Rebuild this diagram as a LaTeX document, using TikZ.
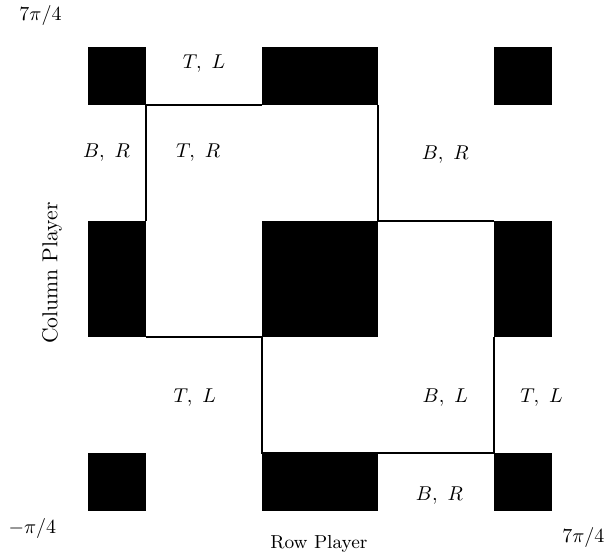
\documentclass[tikz,border=0pt]{standalone}
\usepackage{tikz}
\usetikzlibrary{calc,positioning}
\tikzset{
  blackcell/.style={fill=black, draw=none},
  regionline/.style={draw=black, line width=0.75pt, line join=miter},
  payoff/.style={font=\normalsize, inner sep=1pt},
  axislabel/.style={font=\normalsize, inner sep=1pt}
}

\begin{document}
\begin{tikzpicture}[x=58pt,y=58pt]
    \useasboundingbox (-0.759,-0.379) rectangle (4.474,4.405);
    % black squares of the grid
    \foreach \xa/\xb in {0/0.5, 1.5/2.5, 3.5/4}
      \foreach \ya/\yb in {0/0.5, 1.5/2.5, 3.5/4}
        \path[blackcell] (\xa,\ya) rectangle (\xb,\yb);
    % region boundaries
    \coordinate (p1) at (1.5,3.5);
    \coordinate (p2) at (0.5,3.5);
    \coordinate (p3) at (0.5,2.5);
    \coordinate (q1) at (2.5,3.5);
    \coordinate (q2) at (2.5,2.5);
    \coordinate (q3) at (3.5,2.5);
    \coordinate (r1) at (0.5,1.5);
    \coordinate (r2) at (1.5,1.5);
    \coordinate (r3) at (1.5,0.5);
    \coordinate (r4) at (3.5,0.5);
    \coordinate (r5) at (3.5,1.5);
    \draw[regionline] (p1) -- (p2) -- (p3);
    \draw[regionline] (q1) -- (q2) -- (q3);
    \draw[regionline] (r1) -- (r2) -- (r3) -- (r4) -- (r5);
    % payoff labels
    \node[payoff] (tlTop) at (1.00,3.86) {$T,\ L$};
    \node[payoff] (brLeft) at (0.16,3.09) {$B,\ R$};
    \node[payoff] (trMid) at (0.95,3.09) {$T,\ R$};
    \node[payoff] (brRight) at (3.08,3.07) {$B,\ R$};
    \node[payoff] (tlLow) at (0.92,0.98) {$T,\ L$};
    \node[payoff] (blLow) at (3.08,0.98) {$B,\ L$};
    \node[payoff] (tlRight) at (3.91,0.98) {$T,\ L$};
    \node[payoff] (brBottom) at (3.03,0.13) {$B,\ R$};
    % axes
    \node[axislabel] (yTop) at (-0.41,4.27) {$7\pi/4$};
    \node[axislabel] (origin) at (-0.48,-0.15) {$-\pi/4$};
    \node[axislabel] (xRight) at (4.27,-0.23) {$7\pi/4$};
    \node[axislabel, font=\fontsize{9.4}{11}\selectfont] (rowPl) at (1.99,-0.28) {Row Player};
    \node[axislabel, rotate=90, font=\fontsize{10.8}{13}\selectfont] (colPl) at (-0.31,2.05) {Column Player};
  \end{tikzpicture}
\end{document}
